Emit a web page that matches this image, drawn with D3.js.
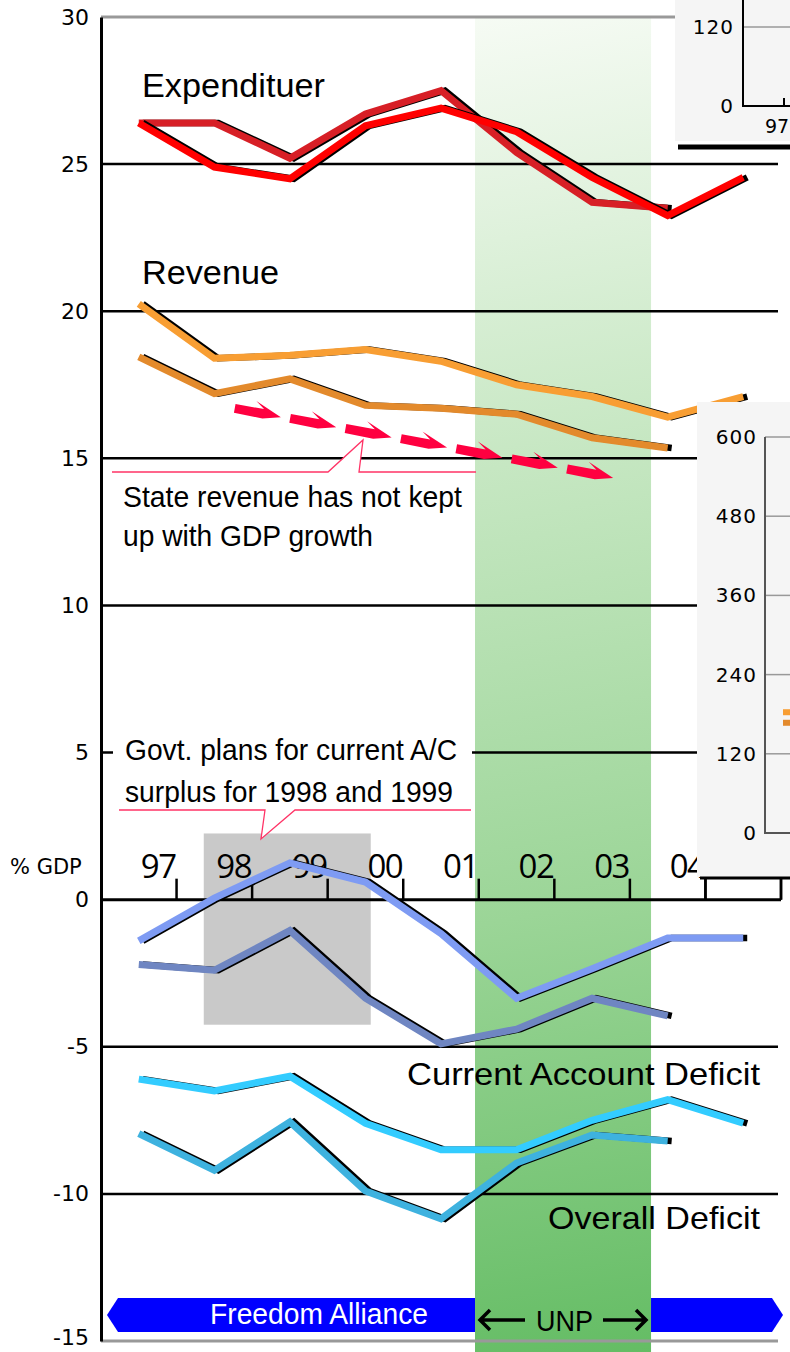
<!DOCTYPE html>
<html>
<head>
<meta charset="utf-8">
<script src="https://d3js.org/d3.v7.min.js"></script>
<style>
body { margin: 0; background: #fff; }
</style>
</head>
<body>
<div id="chart"></div>
<script>
const WIDTH = 790, HEIGHT = 1352

// years on the x axis (points sit in the middle of each year)
const years = [1997, 1998, 1999, 2000, 2001, 2002, 2003, 2004, 2005]
const yearLabels = ["97", "98", "99", "00", "01", "02", "03", "04", "05"]
const yTicks = [-15, -10, -5, 0, 5, 10, 15, 20, 25, 30]

// % of GDP
const expendDark = [26.4, 26.4, 25.2, 26.7, 27.5, 25.4, 23.7, 23.5]
const expendBright = [26.4, 24.9, 24.5, 26.3, 26.9, 26.1, 24.55, 23.25, 24.55]
const revenueLight = [20.25, 18.4, 18.5, 18.7, 18.3, 17.5, 17.1, 16.4, 17.1]
const revenueDark = [18.45, 17.2, 17.7, 16.8, 16.7, 16.5, 15.7, 15.35]
const currentLight = [-1.4, 0.05, 1.25, 0.6, -1.15, -3.35, -2.35, -1.3, -1.3]
const currentDark = [-2.2, -2.4, -1.05, -3.35, -4.9, -4.4, -3.35, -3.95]
const overallLight = [-6.1, -6.5, -6.0, -7.6, -8.5, -8.5, -7.5, -6.8, -7.6]
const overallDark = [-7.95, -9.2, -7.55, -9.9, -10.85, -8.95, -8.0, -8.2]

// shaded periods (in years)
const unpPeriod = [2001.95, 2004.28]
const planPeriod = [1998.36, 2000.57]
const planRange = [-4.25, 2.25]
// dashed trend arrow under revenue: [year, value]
const trendFrom = [1998.77, 16.7]
const trendTo = [2003.78, 14.35]
const trendCount = 7

// insets (cut off at the right edge)
const insetTicks = [0, 120, 240, 360, 480, 600]
const insetTopTicks = [0, 120]
const insetRevLight = [183]
const insetRevDark = [167]

var svg = d3.select("#chart")
	.append("svg")
	.attr("width", WIDTH)
	.attr("height", HEIGHT)
	.style("display", "block")

var x = d3.scaleLinear().domain([1997, 2006]).range([101, 781])
var y = d3.scaleLinear().domain([-15, 30]).range([1341, 17])
var xMid = function(i) { return x(years[i] + 0.5) }
var gridRight = 778
var insetLeft = 697

var narrow = "'Liberation Sans Narrow', 'Liberation Sans', Arial, sans-serif"

// gradient for the UNP band (nearly vertical, a bit lighter top-left)
var defs = svg.append("defs")
var grad = defs.append("linearGradient")
	.attr("id", "unp")
	.attr("gradientUnits", "userSpaceOnUse")
	.attr("x1", x(unpPeriod[0])).attr("y1", y(30))
	.attr("x2", x(unpPeriod[1]) + 60).attr("y2", HEIGHT)
grad.append("stop").attr("offset", 0).attr("stop-color", "#f6fbf4")
grad.append("stop").attr("offset", 0.33).attr("stop-color", "#c6e7c2")
grad.append("stop").attr("offset", 0.66).attr("stop-color", "#9bd597")
grad.append("stop").attr("offset", 1).attr("stop-color", "#63bc63")

// banner (freedom alliance) - drawn under the green band
var bTop = 1298, bBot = 1332, bMid = (bTop + bBot) / 2
var bl = x(1997) + 6, br = x(2006) + 2
svg.append("path")
	.attr("d", "M" + bl + "," + bMid + " L" + (bl + 11) + "," + bTop + " H" + (br - 11) +
		" L" + br + "," + bMid + " L" + (br - 11) + "," + bBot + " H" + (bl + 11) + " Z")
	.attr("fill", "#0000ff")

svg.append("text")
	.attr("x", 210).attr("y", 1324)
	.attr("textLength", 218).attr("lengthAdjust", "spacingAndGlyphs")
	.style("font-family", narrow).style("font-size", "29px")
	.attr("fill", "#fff")
	.text("Freedom Alliance")

// green band
svg.append("rect")
	.attr("x", x(unpPeriod[0])).attr("y", y(30))
	.attr("width", x(unpPeriod[1]) - x(unpPeriod[0]))
	.attr("height", HEIGHT - y(30))
	.attr("fill", "url(#unp)")

// UNP label with arrows
svg.append("text")
	.attr("x", 536).attr("y", 1331)
	.attr("textLength", 57).attr("lengthAdjust", "spacingAndGlyphs")
	.style("font-family", narrow).style("font-size", "30px")
	.attr("fill", "#000")
	.text("UNP")
svg.append("path")
	.attr("d", "M525,1320 H480 M490,1310 L480,1320 L490,1330 M603,1320 H646 M636,1310 L646,1320 L636,1330")
	.attr("fill", "none").attr("stroke", "#000").attr("stroke-width", 3.5)

// gray box for govt. plans
svg.append("rect")
	.attr("x", x(planPeriod[0])).attr("y", y(planRange[1]))
	.attr("width", x(planPeriod[1]) - x(planPeriod[0]))
	.attr("height", y(planRange[0]) - y(planRange[1]))
	.attr("fill", "#c9c9c9")

// grid lines
svg.selectAll(".grid")
	.data(yTicks.filter(function(d) { return d != 0 && d != 30 && d != -15 }))
	.enter().append("line")
	.attr("x1", x(1997)).attr("x2", gridRight)
	.attr("y1", function(d) { return y(d) }).attr("y2", function(d) { return y(d) })
	.attr("stroke", "#000").attr("stroke-width", 2.5)

// top & bottom frame lines are grey
svg.selectAll(".frame")
	.data([30, -15])
	.enter().append("line")
	.attr("x1", x(1997)).attr("x2", gridRight)
	.attr("y1", function(d) { return y(d) }).attr("y2", function(d) { return y(d) })
	.attr("stroke", "#999").attr("stroke-width", 3)

// y axis
var yAxis = svg.append("g")
	.attr("transform", "translate(" + x(1997) + ",0)")
	.call(d3.axisLeft(y).tickValues(yTicks).tickSize(0).tickSizeOuter(0).tickPadding(12)
		.tickFormat(function(d) { return String(d) }))
yAxis.select(".domain").attr("stroke", "#000").attr("stroke-width", 3)
yAxis.selectAll("text")
	.style("font-family", "'DejaVu Sans', Verdana, sans-serif")
	.style("font-size", "22px")
	.attr("fill", "#000")
	.attr("dy", function(d) { return d == -15 ? "0.18em" : "0.32em" })

// x axis at zero, ticks pointing up between years
svg.append("line")
	.attr("x1", x(1997)).attr("x2", x(2006))
	.attr("y1", y(0)).attr("y2", y(0))
	.attr("stroke", "#000").attr("stroke-width", 3)
svg.selectAll(".xtick")
	.data(years.map(function(d) { return d + 1 }))
	.enter().append("line")
	.attr("x1", function(d) { return x(d) }).attr("x2", function(d) { return x(d) })
	.attr("y1", y(0)).attr("y2", y(0) - 21)
	.attr("stroke", "#000").attr("stroke-width", 2.5)
// the last label sits under the inset, so it is not drawn
svg.selectAll(".xlab")
	.data(yearLabels.filter(function(d, i) { return x(years[i] + 1) - 30 < insetLeft }))
	.enter().append("text")
	.attr("x", function(d, i) { return x(years[i] + 1) - 1 })
	.attr("y", y(0) - 22)
	.attr("text-anchor", "end")
	.style("font-family", "'Open Sans', sans-serif")
	.style("font-size", "33px")
	.style("letter-spacing", "-1.5px")
	.attr("fill", "#000")
	.text(function(d) { return d })

svg.append("text")
	.attr("x", 10).attr("y", 874)
	.style("font-family", "'DejaVu Sans', Verdana, sans-serif")
	.style("font-size", "21px")
	.attr("fill", "#000")
	.text("% GDP")

// dashed red trend arrows
var p0 = [x(trendFrom[0]), y(trendFrom[1])], p1 = [x(trendTo[0]), y(trendTo[1])]
var dx = p1[0] - p0[0], dy = p1[1] - p0[1]
var len = Math.sqrt(dx * dx + dy * dy)
var ang = Math.atan2(dy, dx) * 180 / Math.PI
var alen = 47
var step = (len - alen) / (trendCount - 1)
var arrowShape = [[0, -4.5], [29, -4.5], [20, -11], [alen, 0.5], [29, 5], [0, 4.5]]
svg.selectAll(".trend")
	.data(d3.range(trendCount))
	.enter().append("polygon")
	.attr("points", arrowShape.map(function(p) { return p.join(",") }).join(" "))
	.attr("transform", function(i) {
		var px = p0[0] + dx / len * step * i, py = p0[1] + dy / len * step * i
		return "translate(" + px + "," + py + ") rotate(" + ang + ")"
	})
	.attr("fill", "#ff0040")

// the series, each a thick ribbon with a black edge
var series = [
	{ vals: expendDark, color: "#d71f26" },
	{ vals: expendBright, color: "#ff0000" },
	{ vals: revenueDark, color: "#e38a2c" },
	{ vals: revenueLight, color: "#f89e33" },
	{ vals: currentDark, color: "#6f86c2" },
	{ vals: currentLight, color: "#7e9bf3" },
	{ vals: overallDark, color: "#3eb2df" },
	{ vals: overallLight, color: "#33ccff" }
]
var line = d3.line()
	.x(function(d, i) { return xMid(i) })
	.y(function(d) { return y(d) })

series.forEach(function(s) {
	svg.append("path")
		.attr("d", line(s.vals))
		.attr("transform", "translate(4,0)")
		.attr("fill", "none").attr("stroke", "#000")
		.attr("stroke-width", 6.5)
	svg.append("path")
		.attr("d", line(s.vals))
		.attr("fill", "none").attr("stroke", s.color)
		.attr("stroke-width", 7)
})

// series labels
svg.append("text")
	.attr("x", 142).attr("y", 97)
	.attr("textLength", 183).attr("lengthAdjust", "spacingAndGlyphs")
	.style("font-family", "'Liberation Sans', Arial, sans-serif")
	.style("font-size", "33px")
	.attr("fill", "#000")
	.text("Expendituer")
svg.append("text")
	.attr("x", 142).attr("y", 284)
	.attr("textLength", 137).attr("lengthAdjust", "spacingAndGlyphs")
	.style("font-family", "'Liberation Sans', Arial, sans-serif")
	.style("font-size", "33px")
	.attr("fill", "#000")
	.text("Revenue")
svg.append("text")
	.attr("x", 407).attr("y", 1085)
	.attr("textLength", 353).attr("lengthAdjust", "spacingAndGlyphs")
	.style("font-family", narrow).style("font-size", "32px")
	.attr("fill", "#000")
	.text("Current Account Deficit")
svg.append("text")
	.attr("x", 548).attr("y", 1229)
	.attr("textLength", 212).attr("lengthAdjust", "spacingAndGlyphs")
	.style("font-family", narrow).style("font-size", "32px")
	.attr("fill", "#000")
	.text("Overall Deficit")

// callout: state revenue
var pink = "#ff3366"
svg.append("rect")
	.attr("x", 112).attr("y", 472).attr("width", 362).attr("height", 84)
	.attr("fill", "#fff")
svg.append("path")
	.attr("d", "M328,472 L363,440 L359,472 Z")
	.attr("fill", "#fff")
svg.append("path")
	.attr("d", "M112,472 H328 L363,440 L359,472 H476")
	.attr("fill", "none").attr("stroke", pink).attr("stroke-width", 1.3)
svg.append("text")
	.attr("x", 123).attr("y", 507)
	.attr("textLength", 339).attr("lengthAdjust", "spacingAndGlyphs")
	.style("font-family", narrow).style("font-size", "30px")
	.attr("fill", "#000")
	.text("State revenue has not kept")
svg.append("text")
	.attr("x", 123).attr("y", 546)
	.attr("textLength", 250).attr("lengthAdjust", "spacingAndGlyphs")
	.style("font-family", narrow).style("font-size", "30px")
	.attr("fill", "#000")
	.text("up with GDP growth")

// callout: govt plans
svg.append("rect")
	.attr("x", 113).attr("y", 728).attr("width", 359).attr("height", 82)
	.attr("fill", "#fff")
svg.append("path")
	.attr("d", "M265,810 L261,839 L295,810 Z")
	.attr("fill", "#fff")
svg.append("path")
	.attr("d", "M119,810 H265 L261,839 L295,810 H471")
	.attr("fill", "none").attr("stroke", pink).attr("stroke-width", 1.3)
svg.append("text")
	.attr("x", 125).attr("y", 760)
	.attr("textLength", 332).attr("lengthAdjust", "spacingAndGlyphs")
	.style("font-family", narrow).style("font-size", "30px")
	.attr("fill", "#000")
	.text("Govt. plans for current A/C")
svg.append("text")
	.attr("x", 125).attr("y", 802)
	.attr("textLength", 328).attr("lengthAdjust", "spacingAndGlyphs")
	.style("font-family", narrow).style("font-size", "30px")
	.attr("fill", "#000")
	.text("surplus for 1998 and 1999")

// ---- insets (partly off the page) ----
var insetFont = "'DejaVu Sans', Verdana, sans-serif"

// top right inset
var yt = d3.scaleLinear().domain([0, 120]).range([106, 27])
svg.append("rect")
	.attr("x", 675).attr("y", 0).attr("width", 115).attr("height", 141)
	.attr("fill", "#f5f5f5")
svg.append("line")
	.attr("x1", 678).attr("x2", WIDTH).attr("y1", 147).attr("y2", 147)
	.attr("stroke", "#000").attr("stroke-width", 5)
svg.selectAll(".tgrid")
	.data(insetTopTicks.filter(function(d) { return d > 0 }))
	.enter().append("line")
	.attr("x1", 743).attr("x2", WIDTH)
	.attr("y1", function(d) { return yt(d) }).attr("y2", function(d) { return yt(d) })
	.attr("stroke", "#999").attr("stroke-width", 1.5)
svg.selectAll(".tlab")
	.data(insetTopTicks)
	.enter().append("text")
	.attr("x", 734).attr("y", function(d) { return yt(d) + 7 })
	.attr("text-anchor", "end")
	.style("font-family", insetFont).style("font-size", "20px")
	.style("letter-spacing", "1px")
	.attr("fill", "#000")
	.text(function(d) { return d })
svg.append("path")
	.attr("d", "M743,0 V" + yt(0) + " H" + WIDTH + " M784," + yt(0) + " V" + (yt(0) - 8) + " M743," + yt(0) + " v-6")
	.attr("fill", "none").attr("stroke", "#000").attr("stroke-width", 2)
svg.append("text")
	.attr("x", 765).attr("y", 133)
	.style("font-family", insetFont).style("font-size", "19px")
	.attr("fill", "#000")
	.text("97")

// right inset
var ys = d3.scaleLinear().domain([0, 600]).range([833, 437])
svg.append("rect")
	.attr("x", insetLeft).attr("y", 402).attr("width", WIDTH - insetLeft).attr("height", 475)
	.attr("fill", "#f5f5f5")
svg.append("line")
	.attr("x1", 700).attr("x2", WIDTH).attr("y1", 878).attr("y2", 878)
	.attr("stroke", "#000").attr("stroke-width", 3)
svg.selectAll(".sgrid")
	.data(insetTicks.filter(function(d) { return d > 0 }))
	.enter().append("line")
	.attr("x1", 765).attr("x2", WIDTH)
	.attr("y1", function(d) { return ys(d) }).attr("y2", function(d) { return ys(d) })
	.attr("stroke", "#999").attr("stroke-width", 1.5)
svg.selectAll(".slab")
	.data(insetTicks)
	.enter().append("text")
	.attr("x", 757).attr("y", function(d) { return ys(d) + 7 })
	.attr("text-anchor", "end")
	.style("font-family", insetFont).style("font-size", "20px")
	.style("letter-spacing", "1px")
	.attr("fill", "#000")
	.text(function(d) { return d })
svg.append("path")
	.attr("d", "M765," + ys(600) + " V" + ys(0) + " H" + WIDTH + " M765," + ys(0) + " v-6")
	.attr("fill", "none").attr("stroke", "#555").attr("stroke-width", 2)
svg.append("line")
	.attr("x1", 783).attr("x2", WIDTH)
	.attr("y1", ys(insetRevLight[0])).attr("y2", ys(insetRevLight[0]))
	.attr("stroke", "#f89e33").attr("stroke-width", 6)
svg.append("line")
	.attr("x1", 783).attr("x2", WIDTH)
	.attr("y1", ys(insetRevDark[0])).attr("y2", ys(insetRevDark[0]))
	.attr("stroke", "#e38a2c").attr("stroke-width", 6)

// main x ticks reach the inset's bottom bar
svg.selectAll(".xtick2")
	.data([2005, 2006])
	.enter().append("line")
	.attr("x1", function(d) { return x(d) }).attr("x2", function(d) { return x(d) })
	.attr("y1", y(0)).attr("y2", 878)
	.attr("stroke", "#000").attr("stroke-width", 2.5)
</script>
</body>
</html>
